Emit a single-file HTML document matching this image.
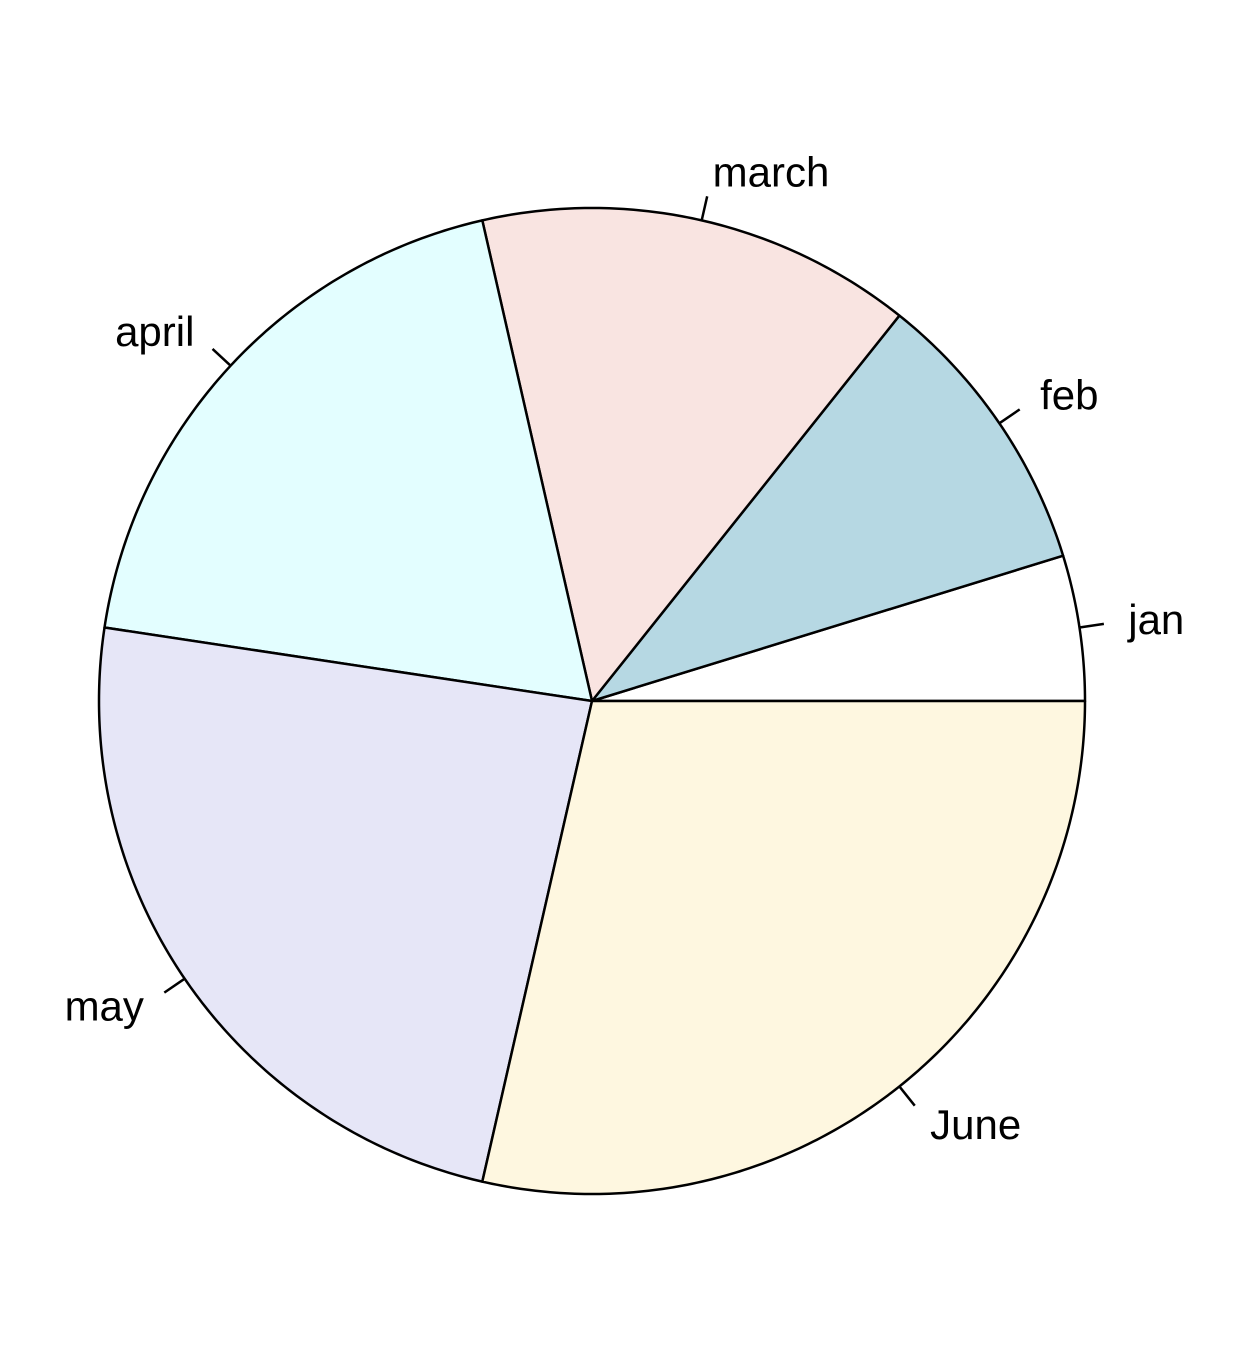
<!DOCTYPE html>
<html><head><meta charset="utf-8"><style>html,body{margin:0;padding:0;background:#fff}svg{display:block}</style></head>
<body>
<svg id="chart" width="1234" height="1346" viewBox="0 0 1234 1346" xmlns="http://www.w3.org/2000/svg" font-family="Liberation Sans, Arial, sans-serif"></svg>
<script>
const categories = ["jan","feb","march","april","may","June"];
const values = [1,2,3,4,5,6];
const colors = ["#FFFFFF","#B6D8E3","#F9E4E1","#E3FEFF","#E6E6F7","#FEF7E0"];
const cx=592, cy=701, R=493;
const svg=document.getElementById('chart');
const NS='http://www.w3.org/2000/svg';
const total=values.reduce((a,b)=>a+b,0);
function pt(a,r){return [cx+r*Math.cos(a), cy-r*Math.sin(a)];}
let acc=0;
values.forEach((v,i)=>{
  const a0=acc/total*2*Math.PI; acc+=v; const a1=acc/total*2*Math.PI;
  const n=Math.max(2,Math.ceil((a1-a0)/0.01));
  let d='M'+cx+','+cy;
  for(let k=0;k<=n;k++){const p=pt(a0+(a1-a0)*k/n,R);d+=' L'+p[0].toFixed(2)+','+p[1].toFixed(2);}
  d+=' Z';
  const path=document.createElementNS(NS,'path');
  path.setAttribute('d',d);path.setAttribute('fill',colors[i]);path.setAttribute('stroke','#000');path.setAttribute('stroke-width','2.5');path.setAttribute('stroke-linejoin','round');
  
  
  svg.appendChild(path);
  const am=(a0+a1)/2;
  const p1=pt(am,R), p2=pt(am,R*1.05), p3=pt(am,R*1.1);
  const ln=document.createElementNS(NS,'line');
  ln.setAttribute('x1',p1[0]);ln.setAttribute('y1',p1[1]);ln.setAttribute('x2',p2[0]);ln.setAttribute('y2',p2[1]);
  ln.setAttribute('stroke','#000');ln.setAttribute('stroke-width','2.5');
  
  
  svg.appendChild(ln);
  const t=document.createElementNS(NS,'text');
  t.setAttribute('x',p3[0]);t.setAttribute('y',p3[1]+14);
  t.setAttribute('font-size','42');
  t.setAttribute('text-anchor',Math.cos(am)>0?'start':'end');
  t.textContent=categories[i];
  
  
  svg.appendChild(t);
});
</script>
</body></html>
